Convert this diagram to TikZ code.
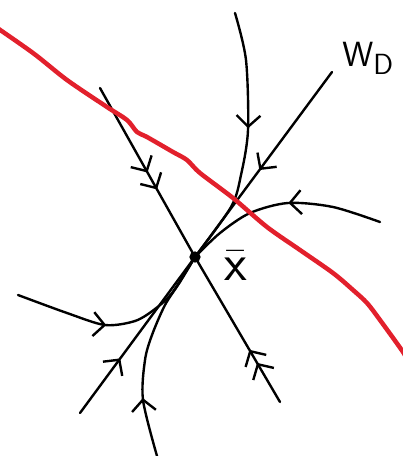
\documentclass[tikz,border=0pt]{standalone}
\usetikzlibrary{arrows.meta, decorations.markings}
\definecolor{sepred}{RGB}{226,32,44}

\begin{document}
\begin{tikzpicture}[
    x=0.025cm, y=-0.025cm,
    orbit/.style={line width=1.7pt, line cap=round, line join=round},
    barb/.style={decoration={markings, mark=at position #1 with {\arrow{Straight Barb[length=8pt, width=17pt, line width=1.7pt]}}}, postaction={decorate}},
    barbs/.style 2 args={decoration={markings,
        mark=at position #1 with {\arrow{Straight Barb[length=8pt, width=17pt, line width=1.7pt]}},
        mark=at position #2 with {\arrow{Straight Barb[length=8pt, width=17pt, line width=1.7pt]}}}, postaction={decorate}},
    fixed/.style={circle, fill, inner sep=0pt, minimum size=8pt},
    separatrix/.style={line width=3.2pt, sepred, line cap=round, line join=round},
    lab/.style={font=\Huge, inner sep=0pt}
  ]
    \useasboundingbox (0,0) rectangle (403,456);

    \node[fixed] (xbar) at (195,257) {};
    \node[lab, scale=1.5] (xlab) at (236,266) {$\bar{\mathsf{x}}$};
    \node[lab] (wd) at (368,58) {$\mathsf{W}_{\mathsf{D}}$};

    \coordinate (a1) at (100,88);
    \coordinate (a2) at (280,402);
    \coordinate (b1) at (332,72);
    \coordinate (b2) at (80,413);
    \coordinate (c1) at (235,13);
    \coordinate (d1) at (380,222);
    \coordinate (e1) at (18,295);
    \coordinate (f1) at (157,456);

    \draw[orbit, barbs={0.50}{0.60}] (a1) -- (xbar.center);
    \draw[orbit, barbs={0.27}{0.36}] (a2) -- (xbar.center);
    \draw[orbit, barb=0.53] (b1) -- (xbar.center);
    \draw[orbit, barb=0.35] (b2) -- (xbar.center);

    \draw[orbit, barb=0.45] plot[smooth] coordinates {(c1) (246,60) (248,130) (241,175) (231,207) (xbar.center)};
    \draw[orbit, barb=0.46] plot[smooth] coordinates {(d1) (333,207) (288,203) (250,213) (220,233) (xbar.center)};
    \draw[orbit, barb=0.44] plot[smooth] coordinates {(e1) (67,313) (105,325) (135,321) (155,309) (172,293) (xbar.center)};
    \draw[orbit, barb=0.28] plot[smooth] coordinates {(f1) (143,400) (145,360) (152,335) (165,305) (180,282) (xbar.center)};

    \begin{scope}
      \clip (0,0) rectangle (403,456);
      \draw[separatrix] plot[smooth] coordinates {(-10,23) (33,53) (67,80) (107,107) (127,120) (137,132) (147,137) (173,152) (187,160) (200,173) (233,198) (267,227) (300,250) (333,273) (353,290) (367,303) (380,320) (403,352) (410,365)};
    \end{scope}
  \end{tikzpicture}
\end{document}
